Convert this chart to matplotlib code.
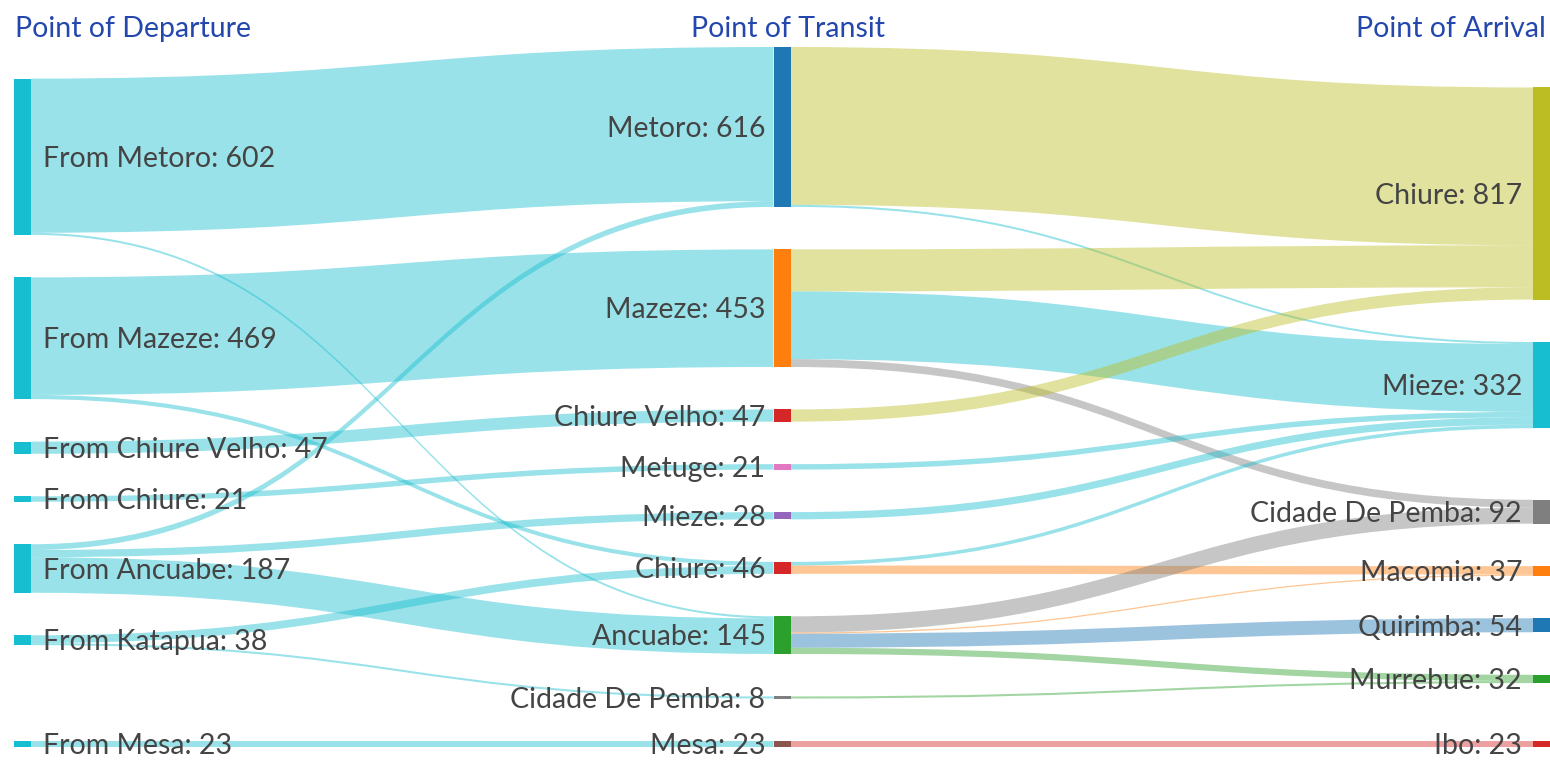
import matplotlib
matplotlib.use('Agg')
import matplotlib.pyplot as plt
from matplotlib.path import Path
from matplotlib.patches import PathPatch, Rectangle

# nodes, column by column (top to bottom order is kept)
departure = ['From Metoro', 'From Mazeze', 'From Chiure Velho', 'From Chiure',
             'From Ancuabe', 'From Katapua', 'From Mesa']
transit = ['Metoro', 'Mazeze', 'Chiure Velho', 'Metuge', 'Mieze', 'Chiure',
           'Ancuabe', 'Cidade De Pemba', 'Mesa']
arrival = ['Chiure', 'Mieze', 'Cidade De Pemba', 'Macomia', 'Quirimba',
           'Murrebue', 'Ibo']

dep_colors = ['#17becf'] * 7
transit_colors = ['#1f77b4', '#ff7f0e', '#d62728', '#e377c2', '#9467bd',
                  '#d62728', '#2ca02c', '#7f7f7f', '#8c564b']
arrival_colors = ['#bcbd22', '#17becf', '#7f7f7f', '#ff7f0e', '#1f77b4',
                  '#2ca02c', '#d62728']

# departure -> transit flows
leg1_src = ['From Metoro', 'From Metoro', 'From Mazeze', 'From Mazeze',
            'From Chiure Velho', 'From Chiure', 'From Ancuabe', 'From Ancuabe',
            'From Ancuabe', 'From Katapua', 'From Katapua', 'From Mesa']
leg1_dst = ['Metoro', 'Ancuabe', 'Mazeze', 'Chiure', 'Chiure Velho', 'Metuge',
            'Metoro', 'Mieze', 'Ancuabe', 'Chiure', 'Cidade De Pemba', 'Mesa']
leg1_val = [594, 8, 453, 16, 47, 21, 22, 28, 137, 30, 8, 23]

# transit -> arrival flows
leg2_src = ['Metoro', 'Metoro', 'Mazeze', 'Mazeze', 'Mazeze', 'Chiure Velho',
            'Metuge', 'Mieze', 'Chiure', 'Chiure', 'Ancuabe', 'Ancuabe',
            'Ancuabe', 'Ancuabe', 'Cidade De Pemba', 'Mesa']
leg2_dst = ['Chiure', 'Mieze', 'Chiure', 'Mieze', 'Cidade De Pemba', 'Chiure',
            'Mieze', 'Mieze', 'Mieze', 'Macomia', 'Cidade De Pemba', 'Macomia',
            'Quirimba', 'Murrebue', 'Murrebue', 'Ibo']
leg2_val = [608, 8, 162, 261, 30, 47, 21, 28, 14, 32, 62, 5, 54, 24, 8, 23]

headers = ['Point of Departure', 'Point of Transit', 'Point of Arrival']

# layout settings (pixels)
W, H = 1550, 760
TOP, BOTTOM = 47, 747
LEFT, RIGHT = 14, 1550
NODE_W = 17
PAD = 42.5
ITERATIONS = 110
LINK_ALPHA = 0.44
FONT = 'Lato'
FS = 20.5
TEXT_COLOR = '#444444'
HEADER_COLOR = '#2447ae'

# build graph
nodes = []
for col, (names, colors) in enumerate([(departure, dep_colors),
                                        (transit, transit_colors),
                                        (arrival, arrival_colors)]):
    for name, c in zip(names, colors):
        nodes.append({'col': col, 'name': name, 'color': c, 'out': [], 'inn': []})


def find(col, name):
    for n in nodes:
        if n['col'] == col and n['name'] == name:
            return n


links = []
for col, (srcs, dsts, vals) in enumerate([(leg1_src, leg1_dst, leg1_val),
                                          (leg2_src, leg2_dst, leg2_val)]):
    for s, t, v in zip(srcs, dsts, vals):
        a, b = find(col, s), find(col + 1, t)
        link = {'src': a, 'dst': b, 'value': v,
                'color': a['color'] if col == 0 else b['color']}
        a['out'].append(link)
        b['inn'].append(link)
        links.append(link)

for n in nodes:
    n['value'] = max(sum(l['value'] for l in n['out']), sum(l['value'] for l in n['inn']))

columns = [[n for n in nodes if n['col'] == c] for c in range(3)]
kx = (RIGHT - LEFT - NODE_W) / (len(columns) - 1)
for n in nodes:
    n['x0'] = LEFT + n['col'] * kx
    n['x1'] = n['x0'] + NODE_W

# relaxation, node order fixed
ky = min((BOTTOM - TOP - (len(c) - 1) * PAD) / sum(n['value'] for n in c) for c in columns)
for c in columns:
    for i, n in enumerate(c):
        n['y0'] = i
        n['y1'] = i + n['value'] * ky
for l in links:
    l['w'] = l['value'] * ky


def center(n):
    return (n['y0'] + n['y1']) / 2


def move(n, dy):
    n['y0'] += dy
    n['y1'] += dy


def resolve():
    for c in columns:
        y = TOP
        for n in c:
            dy = y - n['y0']
            if dy > 0:
                move(n, dy)
            y = n['y1'] + PAD
        dy = y - PAD - BOTTOM
        if dy > 0:
            move(c[-1], -dy)
            y = c[-1]['y0']
            for n in reversed(c[:-1]):
                dy = n['y1'] + PAD - y
                if dy > 0:
                    move(n, -dy)
                y = n['y0']


resolve()
alpha = 1.0
for _ in range(ITERATIONS):
    alpha *= 0.99
    for c in reversed(columns):
        for n in c:
            if n['out']:
                yc = sum(center(l['dst']) * l['value'] for l in n['out']) / sum(l['value'] for l in n['out'])
                move(n, (yc - center(n)) * alpha)
    resolve()
    for c in columns:
        for n in c:
            if n['inn']:
                yc = sum(center(l['src']) * l['value'] for l in n['inn']) / sum(l['value'] for l in n['inn'])
                move(n, (yc - center(n)) * alpha)
    resolve()

for n in nodes:
    n['out'].sort(key=lambda l: l['dst']['y0'])
    n['inn'].sort(key=lambda l: l['src']['y0'])
    y = n['y0']
    for l in n['out']:
        l['ys'] = y
        y += l['w']
    y = n['y0']
    for l in n['inn']:
        l['yt'] = y
        y += l['w']

fig = plt.figure(figsize=(W / 100, H / 100), dpi=100)
ax = fig.add_axes([0, 0, 1, 1])
ax.set_xlim(0, W)
ax.set_ylim(H, 0)
ax.axis('off')

for l in links:
    x0, x1 = l['src']['x1'], l['dst']['x0']
    xm = (x0 + x1) / 2
    ya, yb = l['ys'], l['yt']
    w = l['w']
    verts = [(x0, ya), (xm, ya), (xm, yb), (x1, yb),
             (x1, yb + w), (xm, yb + w), (xm, ya + w), (x0, ya + w), (x0, ya)]
    codes = [Path.MOVETO, Path.CURVE4, Path.CURVE4, Path.CURVE4,
             Path.LINETO, Path.CURVE4, Path.CURVE4, Path.CURVE4, Path.CLOSEPOLY]
    ax.add_patch(PathPatch(Path(verts, codes), facecolor=l['color'], alpha=LINK_ALPHA,
                           edgecolor='none', lw=0))

cap = FS / 72 * 100 * 0.72
for n in nodes:
    ax.add_patch(Rectangle((n['x0'], n['y0']), NODE_W, n['y1'] - n['y0'],
                           facecolor=n['color'], edgecolor='none'))
    label = f"{n['name']}: {n['value']}"
    yb = center(n) + cap / 2
    if n['col'] == 0:
        ax.text(n['x1'] + 12, yb, label, ha='left', va='baseline',
                fontsize=FS, family=FONT, color=TEXT_COLOR)
    else:
        ax.text(n['x0'] - (8 if n['col'] == 1 else 11), yb, label, ha='right',
                va='baseline', fontsize=FS, family=FONT, color=TEXT_COLOR)

ax.text(15, 37, headers[0], ha='left', va='baseline', fontsize=FS, family=FONT, color=HEADER_COLOR)
ax.text(788, 37, headers[1], ha='center', va='baseline', fontsize=FS, family=FONT, color=HEADER_COLOR)
ax.text(1546, 37, headers[2], ha='right', va='baseline', fontsize=FS, family=FONT, color=HEADER_COLOR)

fig.savefig('out.png', dpi=100)
